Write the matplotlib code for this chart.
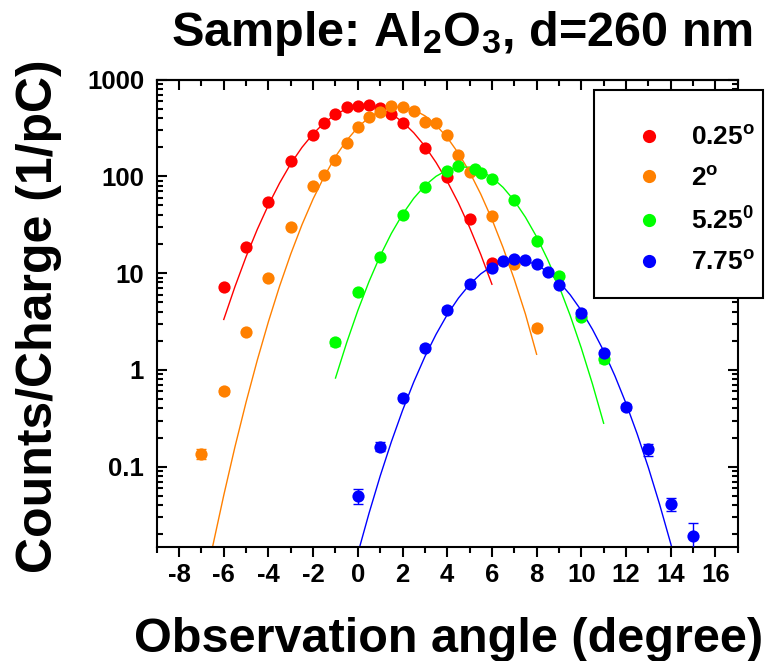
import numpy as np
import matplotlib
matplotlib.use("Agg")
from matplotlib import pyplot as plt
from matplotlib.patches import Rectangle
from matplotlib.lines import Line2D
from matplotlib.ticker import FixedLocator, NullFormatter, LogLocator

plt.rcParams["font.family"] = ["Liberation Sans", "DejaVu Sans"]
plt.rcParams["font.weight"] = "bold"
plt.rcParams["axes.labelweight"] = "bold"
plt.rcParams["mathtext.fontset"] = "custom"
plt.rcParams["mathtext.rm"] = "Liberation Sans:bold"
plt.rcParams["mathtext.bf"] = "Liberation Sans:bold"
plt.rcParams["mathtext.it"] = "Liberation Sans:bold"
plt.rcParams["mathtext.default"] = "bf"

# measured points (observation angle in degree, counts/charge in 1/pC)
red_x = [-6, -5, -4, -3, -2, -1.5, -1, -0.5, 0, 0.5, 1, 1.5, 2, 3, 4, 5, 6]
red_y = [7.2, 18.4, 54.6, 143, 265, 356, 437, 516, 528, 541, 508, 441, 356, 196, 97.4, 36.4, 12.7]
red_err = [0.4, 0.8, 1.5, 3, 4, 5, 5, 6, 6, 6, 6, 5, 5, 4, 2, 1.2, 0.7]

orange_x = [-7, -6, -5, -4, -3, -2, -1.5, -1, -0.5, 0, 0.5, 1, 1.5, 2, 2.5, 3, 3.5, 4, 4.5, 5, 6, 7, 8]
orange_y = [0.135, 0.607, 2.49, 8.9, 30.3, 78.7, 104, 148, 221, 320, 410, 462, 528, 520, 469, 361, 356, 269,
            167, 110, 39.1, 12.5, 2.7]
orange_err = [0.016, 0.04, 0.12, 0.4, 0.9, 2, 2.5, 3, 4, 5, 6, 6, 6, 6, 6, 5, 5, 4, 3, 2.5, 1.2, 0.6, 0.2]

green_x = [-1, 0, 1, 2, 3, 4, 4.5, 5.25, 5.5, 6, 7, 8, 9, 10, 11]
green_y = [1.93, 6.36, 14.5, 39.4, 76.8, 114, 128, 119, 108, 93.8, 57.3, 21.7, 9.44, 3.56, 1.29]
green_err = [0.15, 0.4, 0.7, 1.2, 2, 2.5, 2.5, 2.5, 2.5, 2, 1.5, 0.9, 0.5, 0.3, 0.12]

blue_x = [0, 1, 2, 3, 4, 5, 6, 6.5, 7, 7.5, 8, 8.5, 9, 10, 11, 12, 13, 14, 15]
blue_y = [0.0498, 0.161, 0.518, 1.70, 4.17, 7.75, 11.4, 13.2, 14.1, 13.7, 12.5, 10.2, 7.57, 3.91, 1.49,
          0.418, 0.151, 0.0411, 0.0194]
blue_err = [0.009, 0.017, 0.03, 0.1, 0.25, 0.6, 0.5, 0.5, 0.5, 0.5, 0.5, 0.4, 0.3, 0.2, 0.08, 0.03,
            0.021, 0.006, 0.0065]

# gaussian fit curves, every 0.5 degree
red_fit_x = [-6, -5.5, -5, -4.5, -4, -3.5, -3, -2.5, -2, -1.5, -1, -0.5, 0, 0.5, 1, 1.5, 2, 2.5, 3, 3.5,
             4, 4.5, 5, 5.5, 6]
red_fit_y = [3.32, 7.23, 14.8, 28.3, 50.7, 85.3, 135, 199, 275, 358, 436, 498, 532, 533, 501, 442, 365,
             282, 205, 139, 88.7, 53.0, 29.7, 15.6, 7.67]

orange_fit_x = [-7, -6.5, -6, -5.5, -5, -4.5, -4, -3.5, -3, -2.5, -2, -1.5, -1, -0.5, 0, 0.5, 1, 1.5, 2,
                2.5, 3, 3.5, 4, 4.5, 5, 5.5, 6, 6.5, 7, 7.5, 8]
orange_fit_y = [0.00406, 0.0149, 0.0507, 0.160, 0.466, 1.26, 3.16, 7.35, 15.8, 31.6, 58.5, 100, 160, 235,
                321, 406, 476, 518, 521, 487, 422, 338, 252, 173, 111, 65.5, 36.0, 18.3, 8.61, 3.77, 1.45]

green_fit_x = [-1, -0.5, 0, 0.5, 1, 1.5, 2, 2.5, 3, 3.5, 4, 4.5, 5, 5.5, 6, 6.5, 7, 7.5, 8, 8.5, 9, 9.5,
               10, 10.5, 11]
green_fit_y = [0.824, 1.91, 4.11, 8.18, 15.1, 25.7, 40.5, 59.2, 80.2, 100, 116, 125, 124, 114, 97.4, 76.8,
               56.1, 37.8, 23.7, 13.7, 7.36, 3.66, 1.68, 0.714, 0.281]

blue_fit_x = [0, 0.5, 1, 1.5, 2, 2.5, 3, 3.5, 4, 4.5, 5, 5.5, 6, 6.5, 7, 7.5, 8, 8.5, 9, 9.5, 10, 10.5,
              11, 11.5, 12, 12.5, 13, 13.5, 14, 14.5]
blue_fit_y = [0.0127, 0.0330, 0.0801, 0.181, 0.381, 0.748, 1.37, 2.33, 3.72, 5.51, 7.62, 9.82, 11.8, 13.2,
              13.8, 13.4, 12.2, 10.3, 8.14, 5.98, 4.11, 2.62, 1.57, 0.871, 0.451, 0.218, 0.0980, 0.0411,
              0.0161, 0.00587]

labels = ["0.25$^o$", "2$^o$", "5.25$^0$", "7.75$^o$"]
colors = ["#ff0000", "#ff8000", "#00ff00", "#0000ff"]

series = [(red_x, red_y, red_err, red_fit_x, red_fit_y),
          (orange_x, orange_y, orange_err, orange_fit_x, orange_fit_y),
          (green_x, green_y, green_err, green_fit_x, green_fit_y),
          (blue_x, blue_y, blue_err, blue_fit_x, blue_fit_y)]

fig = plt.figure(figsize=(7.66, 6.61), dpi=100)
ax = fig.add_axes([0.2046, 0.1729, 0.7585, 0.7068])

for (x, y, e, fx, fy), c in zip(series, colors):
    ax.plot(fx, fy, color=c, lw=1.0, zorder=2)
    ax.errorbar(x, y, yerr=e, fmt="o", color=c, ms=8.8, mec="none", ecolor=c,
                elinewidth=1.0, capsize=3.5, capthick=1.0, zorder=3)

ax.set_yscale("log")
ax.set_xlim(-9, 17)
ax.set_ylim(0.0149, 1000)

ax.xaxis.set_major_locator(FixedLocator(np.arange(-8, 17, 2)))
ax.xaxis.set_minor_locator(FixedLocator(np.arange(-9, 18, 1)))
ax.yaxis.set_major_locator(FixedLocator([0.1, 1, 10, 100, 1000]))
ax.yaxis.set_minor_locator(LogLocator(base=10, subs=np.arange(2, 10)))
ax.yaxis.set_minor_formatter(NullFormatter())
ax.set_yticklabels(["0.1", "1", "10", "100", "1000"])
ax.set_xticklabels([str(v) for v in range(-8, 17, 2)])

ax.tick_params(axis="x", which="major", direction="out", length=7, width=1.5, labelsize=18.5, pad=5)
ax.tick_params(axis="x", which="minor", direction="out", length=4, width=1.5)
ax.tick_params(axis="y", which="major", direction="in", length=7, width=1.5, labelsize=18.5, pad=9,
               right=True)
ax.tick_params(axis="y", which="minor", direction="in", length=4, width=1.5, right=True)
for sp in ax.spines.values():
    sp.set_linewidth(1.5)

top = ax.secondary_xaxis("top")
top.xaxis.set_major_locator(FixedLocator(np.arange(-8, 17, 2)))
top.xaxis.set_minor_locator(FixedLocator(np.arange(-9, 18, 1)))
top.tick_params(axis="x", which="major", direction="in", length=7, width=1.5, labeltop=False)
top.tick_params(axis="x", which="minor", direction="in", length=4, width=1.5)
top.spines["top"].set_linewidth(1.5)

ax.set_xlabel("Observation angle (degree)", fontsize=35)
ax.xaxis.label.set_va("baseline")
ax.xaxis.set_label_coords(449 / 766, 9 / 661, transform=fig.transFigure)

ax.set_ylabel("Counts/Charge (1/pC)", fontsize=36)
ax.yaxis.label.set_rotation_mode("anchor")
ax.yaxis.label.set_ha("center")
ax.yaxis.label.set_va("baseline")
ax.yaxis.set_label_coords(52 / 766, 0.521, transform=fig.transFigure)

fig.text(0.603, (661 - 46) / 661, "Sample: Al$_2$O$_3$, d=260 nm", fontsize=35, ha="center",
         va="baseline")

ax.add_patch(Rectangle((0.7527, 0.5323), 0.2908, 0.4452, transform=ax.transAxes, facecolor="white",
                       edgecolor="black", lw=1.5, clip_on=False, zorder=5))
handles = [Line2D([], [], ls="none", marker="o", ms=9.5, color=c, mec="none") for c in colors]
leg = ax.legend(handles, labels, loc="upper left", bbox_to_anchor=(0.8246, 0.901), frameon=False,
                fontsize=19, handlelength=1.0, handletextpad=1.1, labelspacing=0.63, borderpad=0,
                borderaxespad=0)
leg.set_zorder(6)

fig.savefig("out.png", dpi=100)
